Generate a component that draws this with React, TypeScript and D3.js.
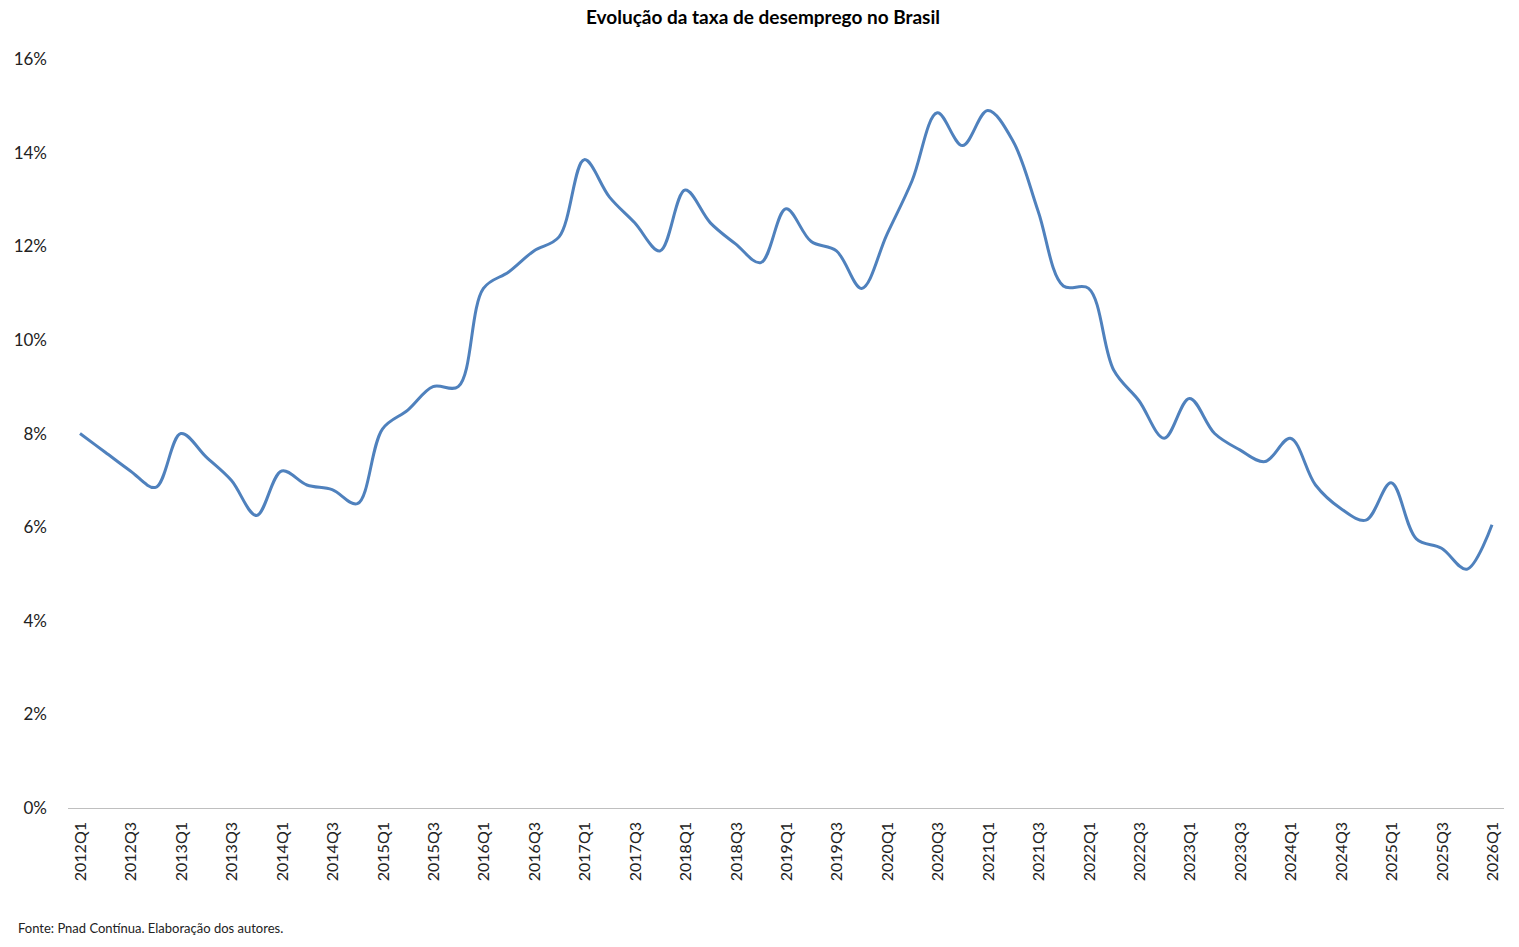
import React from 'react';
import * as d3 from 'd3';

const quarters: string[] = [];
for (let y = 2012; y <= 2026; y++) {
  for (let q = 1; q <= 4; q++) {
    if (y === 2026 && q > 1) break;
    quarters.push(`${y}Q${q}`);
  }
}

const rates = [
  8.0, 7.6, 7.2, 6.85, 8.0, 7.5, 7.0, 6.25, 7.2, 6.9, 6.8, 6.5, 8.1, 8.5, 9.0, 9.0,
  11.1, 11.45, 11.9, 12.2, 13.85, 13.05, 12.5, 11.9, 13.2, 12.5, 12.05, 11.65,
  12.8, 12.1, 11.9, 11.1, 12.25, 13.4, 14.85, 14.15, 14.9, 14.25, 12.75, 11.15,
  11.1, 9.35, 8.7, 7.9, 8.75, 8.0, 7.65, 7.4, 7.9, 6.9, 6.4, 6.15, 6.95, 5.75,
  5.55, 5.1, 6.05,
];

const yTicks = [0, 2, 4, 6, 8, 10, 12, 14, 16];

const W = 1519;
const H = 947;
const font = 'Lato, "Open Sans", sans-serif';

export default function App() {
  const x = d3.scalePoint<string>().domain(quarters).range([80, 1492]);
  const y = d3.scaleLinear().domain([0, 16]).range([808, 59]);
  const line = d3
    .line<number>()
    .x((_, i) => x(quarters[i])!)
    .y((d) => y(d))
    .curve(d3.curveCatmullRom.alpha(0.5));

  return (
    <svg
      width={W}
      height={H}
      style={{ position: 'absolute', left: 0, top: 0, background: '#fff' }}
      fontFamily={font}
    >
      <text x={763} y={24} textAnchor="middle" fontSize={19} fontWeight="bold" fill="#000">
        Evolução da taxa de desemprego no Brasil
      </text>
      {yTicks.map((t) => (
        <text key={t} x={47} y={y(t) + 6} textAnchor="end" fontSize={17} fill="#222">
          {t}%
        </text>
      ))}
      <line x1={68} x2={1504} y1={808.5} y2={808.5} stroke="#bfbfbf" />
      {quarters.map((q, i) =>
        i % 2 === 0 ? (
          <text
            key={q}
            transform={`translate(${x(q)! + 6},822) rotate(-90)`}
            textAnchor="end"
            fontSize={16}
            fill="#222"
          >
            {q}
          </text>
        ) : null
      )}
      <path d={line(rates)!} fill="none" stroke="#4f81bd" strokeWidth={3} strokeLinejoin="round" />
      <text x={18} y={933} fontSize={13} fill="#222">
        Fonte: Pnad Contínua. Elaboração dos autores.
      </text>
    </svg>
  );
}
